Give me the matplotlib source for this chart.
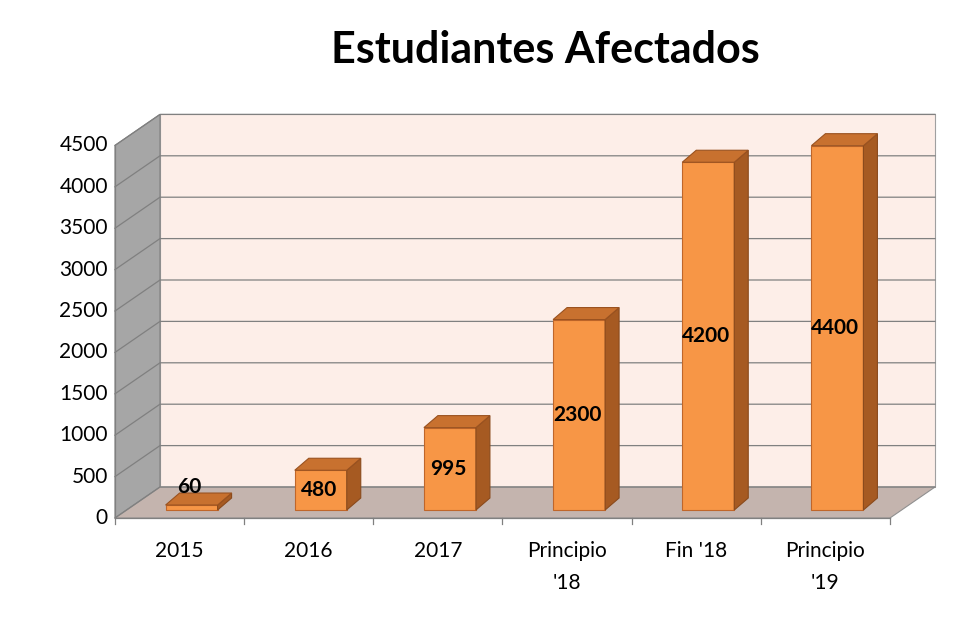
import matplotlib
matplotlib.use("Agg")
import matplotlib.pyplot as plt
from matplotlib.patches import Polygon

categories = ["2015", "2016", "2017", "Principio\n'18", "Fin '18", "Principio\n'19"]
values = [60, 480, 995, 2300, 4200, 4400]
yticks = list(range(0, 4501, 500))

# pixel geometry of the fake-3D chart
X0, X1 = 115, 890          # front floor edge
Y0 = 518                   # front floor y (value 0)
PX = 41.4 / 500            # px per unit
DX, DY = 45, -31           # depth of the plot box
BDX, BDY = 14, -12         # depth of a bar
BAR_W = 52
BAR_BASE = 510
STEP = (X1 - X0) / len(categories)

fig = plt.figure(figsize=(9.79, 6.2), dpi=100)
ax = fig.add_axes([0, 0, 1, 1])
ax.set_xlim(0, 979)
ax.set_ylim(620, 0)
ax.axis("off")
FONT = "Lato"

top = Y0 - yticks[-1] * PX
# back wall, left wall, floor
ax.add_patch(Polygon([(X0 + DX, top + DY), (X1 + DX, top + DY), (X1 + DX, Y0 + DY), (X0 + DX, Y0 + DY)],
                     fc="#FDEEE8", ec="#A0A0A0", lw=0.8))
ax.add_patch(Polygon([(X0, top), (X0 + DX, top + DY), (X0 + DX, Y0 + DY), (X0, Y0)],
                     fc="#A6A6A6", ec="#808080", lw=0.8))
ax.add_patch(Polygon([(X0, Y0), (X1, Y0), (X1 + DX, Y0 + DY), (X0 + DX, Y0 + DY)],
                     fc="#C4B4AE", ec="#909090", lw=0.8))
for t in yticks:
    y = Y0 - t * PX
    ax.plot([X0, X0 + DX, X1 + DX], [y, y + DY, y + DY], color="#808080", lw=0.9)
    ax.text(X0 - 7, y, str(t), ha="right", va="center", fontsize=15, family=FONT)
ax.plot([X0, X0], [top, Y0], color="#808080", lw=0.9)
ax.plot([X0, X1], [Y0, Y0], color="#808080", lw=0.9)
for i in range(len(categories) + 1):
    x = X0 + i * STEP
    ax.plot([x, x], [Y0, Y0 + 6], color="#808080", lw=0.9)

for i, (cat, v) in enumerate(zip(categories, values)):
    c = X0 + (i + 0.5) * STEP + 12
    l, r = c - BAR_W / 2, c + BAR_W / 2
    yt = BAR_BASE - v * PX
    ax.add_patch(Polygon([(l, yt), (r, yt), (r, BAR_BASE), (l, BAR_BASE)],
                         fc="#F79646", ec="#C0662A", lw=0.8, zorder=3))
    ax.add_patch(Polygon([(r, yt), (r + BDX, yt + BDY), (r + BDX, BAR_BASE + BDY), (r, BAR_BASE)],
                         fc="#A65A22", ec="#8A4A1C", lw=0.8, zorder=3))
    ax.add_patch(Polygon([(l, yt), (r, yt), (r + BDX, yt + BDY), (l + BDX, yt + BDY)],
                         fc="#C8712F", ec="#9A5220", lw=0.8, zorder=3))
    ly = (yt + BAR_BASE) / 2 if v > 200 else yt - 18
    ax.text(c - 2, ly, str(v), ha="center", va="center", fontsize=15,
            fontweight="bold", family=FONT, zorder=4)
    ax.text(X0 + (i + 0.5) * STEP, 541, cat, ha="center", va="top", fontsize=15,
            family=FONT, linespacing=1.75)

ax.text(545, 50, "Estudiantes Afectados", ha="center", va="center", fontsize=31,
        fontweight="bold", family=FONT)

fig.savefig("out.png", dpi=100)
